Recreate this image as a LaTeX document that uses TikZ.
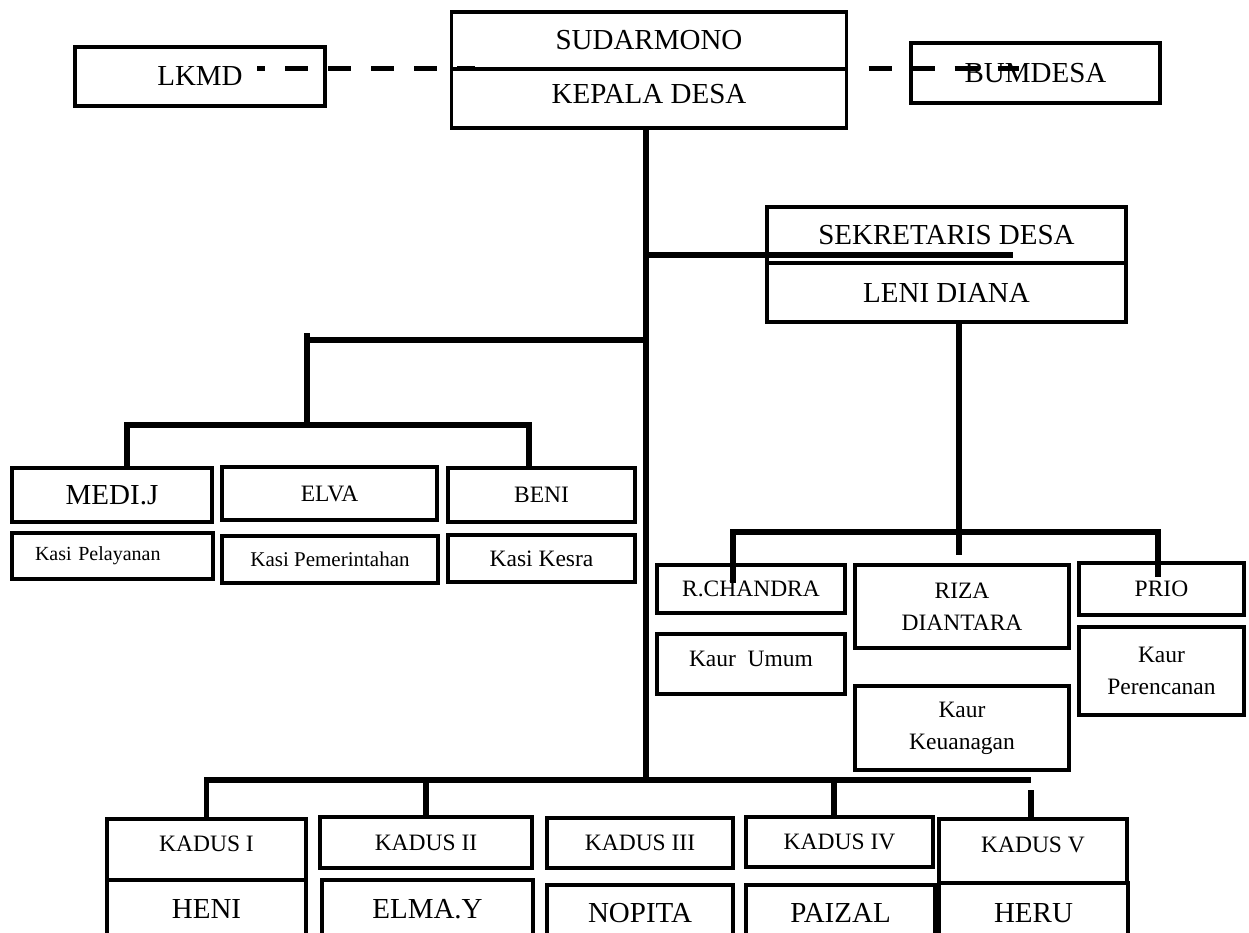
\documentclass[tikz,border=0pt]{standalone}
\usepackage{fontspec}
\setmainfont{Liberation Serif}
\usetikzlibrary{calc,positioning}

\tikzset{
	kotak/.style={draw, line width=3.5pt, inner sep=0pt, outer sep=0pt, align=center},
	ukuran/.style 2 args={minimum width=#1pt, minimum height=#2pt},
	garis/.style={line width=5.5pt},
	putus/.style={line width=5pt, dash pattern=on 23pt off 20pt},
	besar/.style={font=\fontsize{29}{32}\selectfont},
	sedang/.style={font=\fontsize{23.5}{32}\selectfont},
	kecil/.style={font=\fontsize{20}{24}\selectfont},
}

\begin{document}
\begin{tikzpicture}[x=1pt, y=-1pt]
	%% Canvas of the chart (pixels of the page, y going down)
	\useasboundingbox (0,0) rectangle (1249,933);
	\clip (0,0) rectangle (1249,933);

	%% Top row: kepala desa and its partners
	\node[kotak, besar, ukuran={395}{57}] (nama) at (649,40.5) {SUDARMONO};
	\node[kotak, besar, ukuran={395}{59}, text depth=10pt] (jabatan) at (649,98.5) {KEPALA DESA};
	\node[kotak, besar, ukuran={250}{59}] (lkmd) at (200,76.5) {LKMD};
	\node[kotak, besar, ukuran={249}{60}] (bumdesa) at (1035.5,73) {BUMDESA};

	%% Sekretaris desa (two cells)
	\node[kotak, besar, ukuran={359}{56}] (sekdes) at (946.5,235) {SEKRETARIS DESA};
	\node[kotak, besar, ukuran={359}{59}] (leni) at (946.5,292.5) {LENI DIANA};

	%% Kasi row (name above, post below)
	\node[kotak, besar, ukuran={200}{54}] (medi) at (112,495) {MEDI.J};
	\node[kotak, sedang, ukuran={215}{53}] (elva) at (329.5,493.5) {ELVA};
	\node[kotak, sedang, ukuran={187}{54}] (beni) at (541.5,495) {BENI};
	\node[kotak, kecil, ukuran={201}{46}, text width=155pt, align=left] (pelayanan) at (112.5,556) {Kasi Pelayanan};
	\node[kotak, font=\fontsize{21}{24}\selectfont, ukuran={216}{47}] (pemerintahan) at (330,559.5) {Kasi Pemerintahan};
	\node[kotak, sedang, ukuran={187}{47}] (kesra) at (541.5,558.5) {Kasi Kesra};

	%% Kaur row
	\node[kotak, sedang, ukuran={188}{48}] (chandra) at (751,589) {R.CHANDRA};
	\node[kotak, sedang, ukuran={188}{60}, text depth=10pt] (umum) at (751,664) {Kaur\ \ Umum};
	\node[kotak, sedang, ukuran={214}{83}] (riza) at (962,606.5) {RIZA\\DIANTARA};
	\node[kotak, sedang, ukuran={214}{84}] (keuangan) at (962,728) {Kaur\\Keuanagan};
	\node[kotak, sedang, ukuran={165}{52}] (prio) at (1161.5,589) {PRIO};
	\node[kotak, sedang, ukuran={165}{88}] (perencanan) at (1161.5,671) {Kaur\\Perencanan};

	%% Kadus row (bottom cells run off the page)
	\node[kotak, sedang, ukuran={199}{61}, text depth=11pt] (kadus1) at (206.5,849.5) {KADUS I};
	\node[kotak, besar, ukuran={199}{58}] (heni) at (206.5,909) {HENI};
	\node[kotak, sedang, ukuran={212}{51}] (kadus2) at (426,842.5) {KADUS II};
	\node[kotak, besar, ukuran={211}{58}] (elma) at (427.5,909) {ELMA.Y};
	\node[kotak, sedang, ukuran={186}{50}] (kadus3) at (640,843) {KADUS III};
	\node[kotak, besar, ukuran={186}{56}] (nopita) at (640,913) {NOPITA};
	\node[kotak, sedang, ukuran={187}{50}] (kadus4) at (839.5,842) {KADUS IV};
	\node[kotak, besar, ukuran={189}{56}] (paizal) at (840.5,913) {PAIZAL};
	\node[kotak, sedang, ukuran={188}{64}, text depth=12pt] (kadus5) at (1033,851) {KADUS V};
	\node[kotak, besar, ukuran={189}{60}] (heru) at (1033.5,913) {HERU};

	%% Dashed coordination lines
	\draw[putus, dash phase=15pt] ([shift={(57pt,7.5pt)}]lkmd.center) -- ([xshift=23pt]jabatan.north west);
	\draw[putus] ([xshift=22pt]jabatan.north east) -- ([shift={(108pt,4pt)}]bumdesa.west);

	%% Main line down to the kadus bus
	\coordinate (bus) at (646,780);
	\draw[garis] ([xshift=-3pt]jabatan.south) -- (bus);

	% sekretaris branch
	\coordinate (t1) at (646,255);
	\draw[garis] (t1) -- ([shift={(66pt,8pt)}]sekdes.south);

	% kasi branch
	\coordinate (t2) at (646,340);
	\coordinate (t3) at (307,425);
	\coordinate (t4) at (307,333);
	\draw[garis] (t2) -- (t2 -| t3);
	\draw[garis] (t4) -- (t3);
	\draw[garis] ([xshift=15pt]medi.north) |- ([xshift=-12.5pt]beni.north |- t3) -- ([xshift=-12.5pt]beni.north);

	% kaur branch
	\coordinate (t5) at (959,532);
	\draw[garis] ([xshift=12.5pt]leni.south) -- ++(0,233);
	\draw[garis] ([shift={(-18pt,-18pt)}]chandra.north) |- (t5) -| ([shift={(-3.5pt,-14pt)}]prio.north);

	% kadus bus
	\draw[garis] (kadus1.north) |- ([shift={(-2pt,39pt)}]kadus5.north);
	\draw[garis] (kadus2.north) -- (kadus2.north |- bus);
	\draw[garis] ([xshift=-5.5pt]kadus4.north) -- ([xshift=-5.5pt]kadus4.north |- bus);
	\draw[garis] ([xshift=-2pt]kadus5.north) -- ++(0,-29);
\end{tikzpicture}
\end{document}
